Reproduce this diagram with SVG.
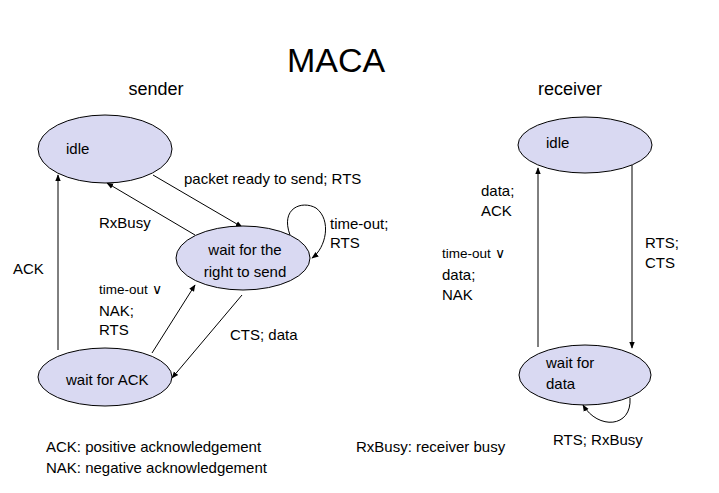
<svg xmlns="http://www.w3.org/2000/svg" width="719" height="493" viewBox="0 0 719 493">
<defs>
<marker id="ah" viewBox="0 0 10 10" refX="9" refY="5" markerWidth="7" markerHeight="7" orient="auto" markerUnits="userSpaceOnUse">
<path d="M0,1 L10,5 L0,9 z" fill="#000"/>
</marker>
<style>
.n{fill:#d9d9f2;stroke:#000;stroke-width:1}
.t{font-family:"Liberation Sans",Arial,sans-serif;font-size:15px;fill:#000}
.s{font-family:"Liberation Sans",Arial,sans-serif;font-size:13.5px;fill:#000}
.e{fill:none;stroke:#000;stroke-width:1;marker-end:url(#ah)}
</style>
</defs>
<rect width="719" height="493" fill="#fff"/>
<text x="336" y="72" text-anchor="middle" style="font-family:'Liberation Sans',Arial,sans-serif;font-size:34px">MACA</text>
<text x="156" y="95" text-anchor="middle" style="font-family:'Liberation Sans',Arial,sans-serif;font-size:18px">sender</text>
<text x="570" y="95" text-anchor="middle" style="font-family:'Liberation Sans',Arial,sans-serif;font-size:18px">receiver</text>

<g id="connectors">
<path class="e" d="M58,350 L58,175"/>
<path class="e" d="M153,175 L242,227"/>
<path class="e" d="M195,235 L107,183"/>
<path class="e" d="M290,235 C280,208 302,200 316,208 C332,220 326,248 312,258"/>
<path class="e" d="M152,353 L195,285"/>
<path class="e" d="M242,295 L172,378"/>
<path class="e" d="M538,347 L538,168"/>
<path class="e" d="M632,165 L632,348"/>
<path class="e" d="M630,398 C632,428 598,430 583,405"/>
</g>

<g id="s_idle"><ellipse class="n" cx="105" cy="149" rx="67" ry="34"/><text class="t" x="66" y="154">idle</text></g>
<g id="s_wait_right"><ellipse class="n" cx="243" cy="258" rx="67" ry="32"/><text class="t" x="245" y="255" text-anchor="middle">wait for the</text><text class="t" x="245" y="277" text-anchor="middle">right to send</text></g>
<g id="s_wait_ack"><ellipse class="n" cx="105" cy="377" rx="67" ry="29"/><text class="t" x="66" y="385">wait for ACK</text></g>
<g id="r_idle"><ellipse class="n" cx="585" cy="145" rx="67" ry="28"/><text class="t" x="546" y="148">idle</text></g>
<g id="r_wait_data"><ellipse class="n" cx="585" cy="375" rx="66" ry="30"/><text class="t" x="546" y="368">wait for</text><text class="t" x="546" y="389">data</text></g>

<g id="labels">
<text class="t" x="184" y="184">packet ready to send; RTS</text>
<text class="t" x="99" y="228">RxBusy</text>
<text class="t" x="330" y="229">time-out;</text>
<text class="t" x="330" y="248">RTS</text>
<text class="t" x="13" y="274">ACK</text>
<text class="s" x="99" y="294">time-out ∨</text>
<text class="t" x="99" y="316">NAK;</text>
<text class="t" x="99" y="335">RTS</text>
<text class="t" x="230" y="340">CTS; data</text>
<text class="t" x="481" y="196">data;</text>
<text class="t" x="481" y="216">ACK</text>
<text class="s" x="442" y="258">time-out ∨</text>
<text class="t" x="442" y="280">data;</text>
<text class="t" x="442" y="300">NAK</text>
<text class="t" x="645" y="248">RTS;</text>
<text class="t" x="645" y="268">CTS</text>
<text class="t" x="553" y="445">RTS; RxBusy</text>
<text class="t" x="46" y="452">ACK: positive acknowledgement</text>
<text class="t" x="46" y="473">NAK: negative acknowledgement</text>
<text class="t" x="356" y="452">RxBusy: receiver busy</text>
</g>
</svg>
